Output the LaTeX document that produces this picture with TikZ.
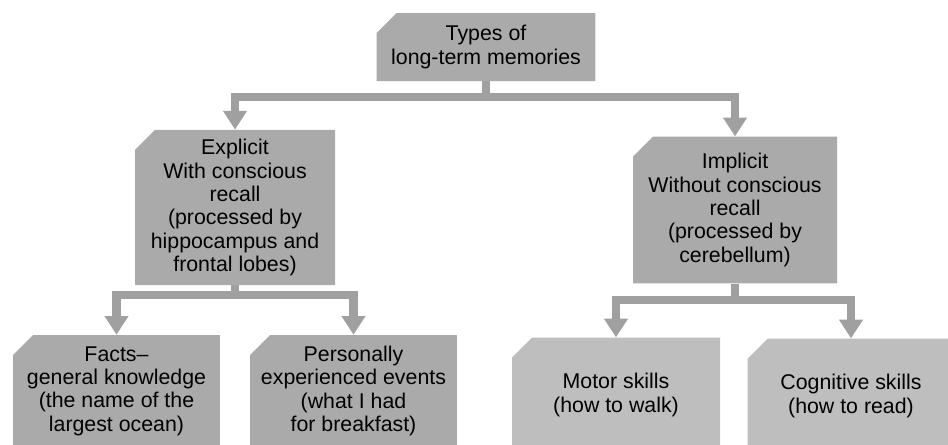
\documentclass[tikz,border=0pt]{standalone}
\usepackage{fontspec}
\setmainfont{Liberation Sans}
\usetikzlibrary{shapes.misc,arrows.meta}

\definecolor{boxgray}{RGB}{170,170,170}
\definecolor{palegray}{RGB}{190,190,190}
\definecolor{linkgray}{RGB}{160,160,160}

\tikzset{
  memory/.style={chamfered rectangle, chamfered rectangle corners=north west,
    chamfered rectangle xsep=8pt, chamfered rectangle ysep=7pt,
    fill=boxgray, inner sep=0pt, align=center, text=black,
    font=\fontsize{16}{17.5}\selectfont},
  link/.style={draw=linkgray, line width=6.5pt,
    -{Triangle[width=17pt,length=14pt]}}
}

\begin{document}
\begin{tikzpicture}[x=0.75pt,y=0.75pt,yscale=-1,xscale=1]
\useasboundingbox (0,0) rectangle (948,444);
\clip (0,0) rectangle (948,444);

% Boxes
\node[memory, minimum width=164pt, minimum height=51pt] (types) at (486,47) {Types of\\long-term memories};
\node[memory, minimum width=150pt, minimum height=112pt] (explicit) at (235,207.5) {Explicit\\With conscious\\recall\\(processed by\\hippocampus and\\frontal lobes)};
\node[memory, minimum width=153pt, minimum height=110pt] (implicit) at (735,210) {Implicit\\Without conscious\\recall\\(processed by\\cerebellum)};
\node[memory, minimum width=155pt, minimum height=84pt] (facts) at (116.5,391) {Facts--\\general knowledge\\(the name of the\\largest ocean)};
\node[memory, minimum width=155pt, minimum height=84pt] (personal) at (353.5,391) {Personally\\experienced events\\(what I had\\for breakfast)};
\node[memory, fill=palegray, minimum width=156pt, minimum height=86pt] (motor) at (616,395) {Motor skills\\(how to walk)};
\node[memory, fill=palegray, minimum width=155pt, minimum height=86pt] (cognitive) at (851,396) {Cognitive skills\\(how to read)};

% Branch points
\coordinate (typesbar) at (486,97);
\coordinate (explicitbar) at (235,295);
\coordinate (implicitbar) at (735,300);

% Connectors
\draw[link] (types.south) -- (typesbar) -| (explicit.north);
\draw[link] (types.south) -- (typesbar) -| (implicit.north);
\draw[link] (explicit.south) -- (explicitbar) -| (facts.north);
\draw[link] (explicit.south) -- (explicitbar) -| (personal.north);
\draw[link] (implicit.south) -- (implicitbar) -| (motor.north);
\draw[link] (implicit.south) -- (implicitbar) -| (cognitive.north);

\end{tikzpicture}
\end{document}
